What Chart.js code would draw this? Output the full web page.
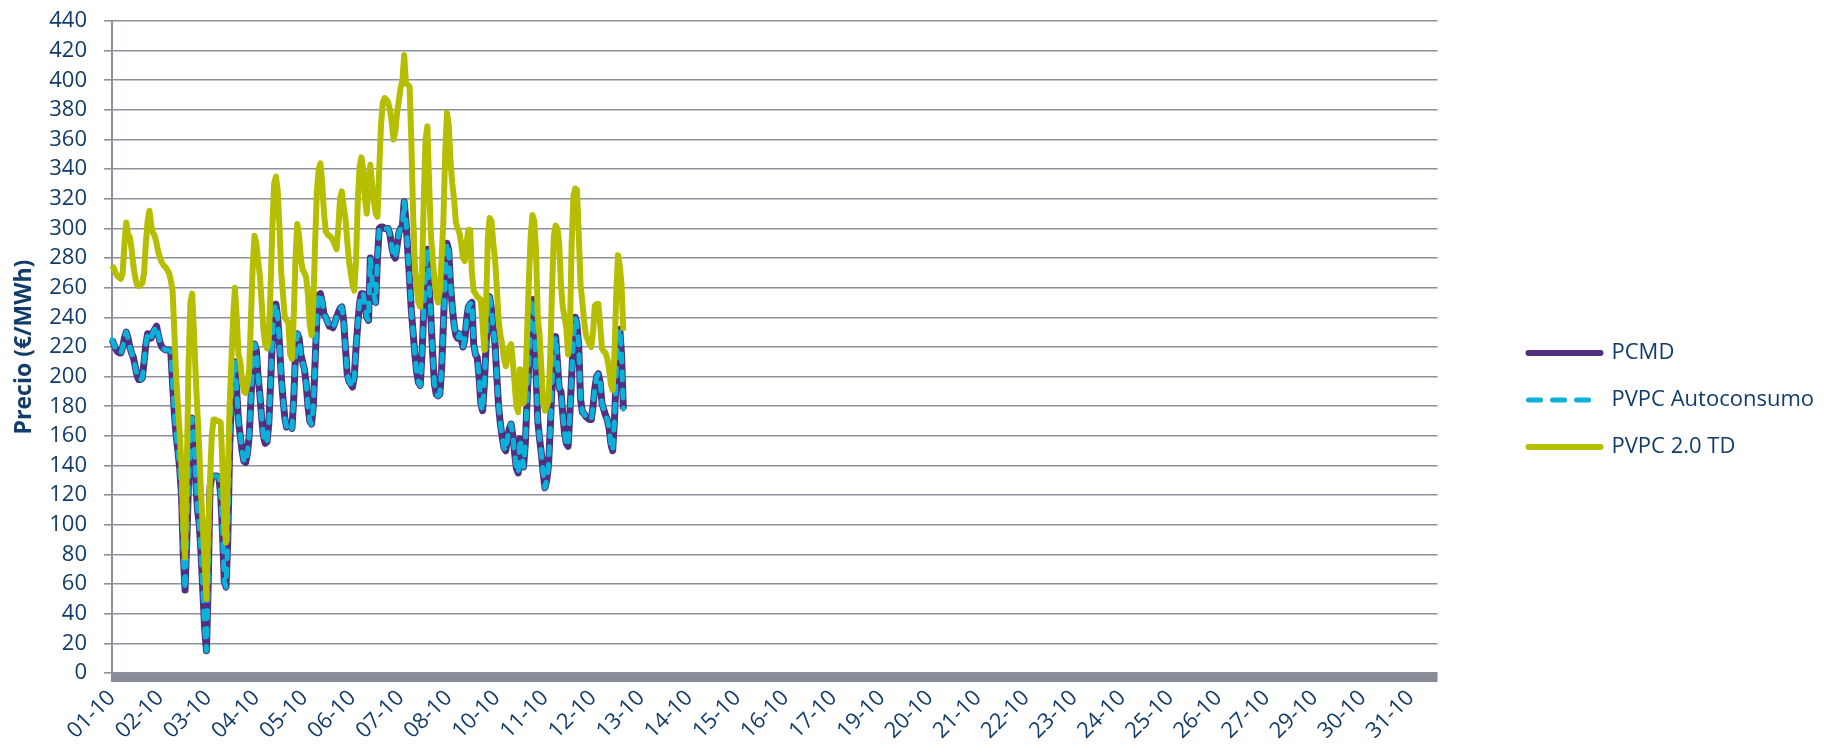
<!DOCTYPE html>
<html lang="es">
<head>
<meta charset="utf-8">
<title>Precio PCMD / PVPC - octubre</title>
<script src="https://cdn.jsdelivr.net/npm/chart.js@4.4.1/dist/chart.umd.min.js"></script>
<style>
  html, body { margin: 0; padding: 0; background: #fff; overflow: hidden; }
  #wrap { width: 1824px; height: 753px; }
</style>
</head>
<body>
<div id="wrap"><canvas id="precioChart" width="1824" height="753"></canvas></div>
<script>
// Days of the month shown on the category axis (one category per hour)
const days = ['01-10', '02-10', '03-10', '04-10', '05-10', '06-10', '07-10', '08-10',
  '09-10', '10-10', '11-10', '12-10', '13-10', '14-10', '15-10', '16-10', '17-10',
  '18-10', '19-10', '20-10', '21-10', '22-10', '23-10', '24-10', '25-10', '26-10',
  '27-10', '28-10', '29-10', '30-10', '31-10'];
// 27-10 is the DST change day, so it has 25 hours
const hoursPerDay = [24, 24, 24, 24, 24, 24, 24, 24, 24, 24, 24, 24, 24, 24, 24, 24,
  24, 24, 24, 24, 24, 24, 24, 24, 24, 24, 25, 24, 24, 24, 24];
const labelStep = 27; // one visible label every 27 hours

// Hourly prices (€/MWh), 01-10 to 12-10, one row per day
const pcmd = [
  225, 222, 219, 217, 216, 216, 220, 226, 230, 226, 220, 216, 213, 207, 201, 198, 198, 199, 210, 222, 229, 228, 226, 230,
  232, 234, 228, 223, 220, 219, 218, 218, 218, 217, 195, 175, 160, 150, 138, 120, 80, 56, 90, 130, 160, 172, 160, 130,
  110, 100, 80, 55, 30, 15, 60, 125, 132, 133, 133, 133, 132, 120, 95, 62, 58, 90, 150, 185, 205, 210, 190, 170,
  160, 150, 143, 142, 148, 160, 185, 210, 222, 218, 200, 188, 172, 160, 155, 156, 168, 195, 225, 245, 249, 240, 222, 200,
  185, 172, 166, 168, 168, 165, 185, 215, 229, 226, 215, 210, 205, 195, 180, 170, 168, 180, 210, 240, 255, 256, 250, 242,
  240, 237, 234, 234, 233, 236, 240, 243, 246, 247, 238, 220, 202, 197, 195, 193, 200, 220, 236, 250, 256, 256, 248, 240,
  238, 280, 265, 255, 250, 280, 300, 301, 301, 300, 300, 300, 296, 288, 282, 280, 288, 297, 300, 302, 318, 305, 285, 266,
  245, 230, 215, 203, 196, 194, 215, 245, 272, 286, 262, 240, 215, 195, 188, 187, 188, 205, 235, 268, 290, 285, 262, 247,
  235, 228, 226, 229, 225, 220, 225, 238, 247, 249, 250, 222, 215, 213, 200, 182, 177, 195, 222, 245, 254, 245, 232, 222,
  200, 180, 168, 159, 152, 150, 158, 165, 168, 160, 148, 138, 135, 158, 150, 139, 155, 185, 210, 238, 252, 240, 202, 170,
  158, 148, 135, 125, 130, 140, 165, 195, 218, 227, 210, 192, 190, 175, 162, 155, 153, 175, 200, 225, 240, 235, 220, 185,
  176, 175, 173, 172, 171, 171, 180, 192, 200, 202, 196, 182, 178, 174, 171, 165, 155, 150, 170, 200, 228, 232, 215, 178
];

// Lies right on top of PCMD in the picture
const pvpcAutoconsumo = [
  225, 222, 219, 217, 216, 216, 220, 226, 230, 226, 220, 216, 213, 207, 201, 198, 198, 199, 210, 222, 229, 228, 226, 230,
  232, 234, 228, 223, 220, 219, 218, 218, 218, 217, 195, 175, 160, 150, 138, 120, 80, 56, 90, 130, 160, 172, 160, 130,
  110, 100, 80, 55, 30, 15, 60, 125, 132, 133, 133, 133, 132, 120, 95, 62, 58, 90, 150, 185, 205, 210, 190, 170,
  160, 150, 143, 142, 148, 160, 185, 210, 222, 218, 200, 188, 172, 160, 155, 156, 168, 195, 225, 245, 249, 240, 222, 200,
  185, 172, 166, 168, 168, 165, 185, 215, 229, 226, 215, 210, 205, 195, 180, 170, 168, 180, 210, 240, 255, 256, 250, 242,
  240, 237, 234, 234, 233, 236, 240, 243, 246, 247, 238, 220, 202, 197, 195, 193, 200, 220, 236, 250, 256, 256, 248, 240,
  238, 280, 265, 255, 250, 280, 300, 301, 301, 300, 300, 300, 296, 288, 282, 280, 288, 297, 300, 302, 318, 305, 285, 266,
  245, 230, 215, 203, 196, 194, 215, 245, 272, 286, 262, 240, 215, 195, 188, 187, 188, 205, 235, 268, 290, 285, 262, 247,
  235, 228, 226, 229, 225, 220, 225, 238, 247, 249, 250, 222, 215, 213, 200, 182, 177, 195, 222, 245, 254, 245, 232, 222,
  200, 180, 168, 159, 152, 150, 158, 165, 168, 160, 148, 138, 135, 158, 150, 139, 155, 185, 210, 238, 252, 240, 202, 170,
  158, 148, 135, 125, 130, 140, 165, 195, 218, 227, 210, 192, 190, 175, 162, 155, 153, 175, 200, 225, 240, 235, 220, 185,
  176, 175, 173, 172, 171, 171, 180, 192, 200, 202, 196, 182, 178, 174, 171, 165, 155, 150, 170, 200, 228, 232, 215, 178
];

const pvpc20td = [
  275, 273, 270, 268, 267, 266, 270, 290, 304, 296, 294, 286, 275, 267, 262, 261, 262, 263, 270, 290, 305, 312, 302, 297,
  295, 290, 284, 280, 277, 275, 274, 272, 270, 265, 258, 230, 200, 180, 162, 140, 100, 78, 140, 210, 250, 256, 230, 200,
  175, 150, 120, 99, 75, 50, 95, 130, 160, 171, 171, 170, 170, 169, 140, 100, 88, 130, 180, 210, 240, 260, 240, 215,
  210, 198, 190, 189, 195, 205, 240, 275, 295, 290, 278, 268, 250, 232, 222, 219, 225, 260, 300, 330, 335, 326, 300, 270,
  255, 240, 238, 236, 215, 212, 240, 280, 303, 295, 280, 272, 270, 267, 255, 235, 228, 250, 290, 325, 340, 344, 330, 310,
  298, 296, 295, 294, 292, 289, 286, 300, 320, 325, 315, 307, 292, 278, 270, 262, 258, 280, 320, 342, 348, 340, 320, 310,
  330, 343, 330, 318, 310, 308, 340, 370, 385, 388, 387, 385, 380, 372, 360, 365, 378, 386, 395, 400, 417, 398, 397, 396,
  360, 310, 275, 260, 250, 247, 270, 320, 360, 369, 330, 295, 280, 265, 255, 250, 258, 280, 305, 350, 378, 370, 345, 330,
  320, 304, 300, 297, 290, 280, 278, 290, 299, 299, 270, 258, 256, 254, 253, 252, 235, 218, 250, 295, 307, 305, 290, 279,
  260, 238, 228, 222, 212, 207, 212, 220, 222, 210, 195, 180, 176, 205, 200, 182, 195, 230, 265, 295, 309, 305, 285, 240,
  228, 205, 182, 177, 180, 184, 215, 260, 295, 302, 300, 290, 262, 247, 240, 233, 215, 230, 290, 322, 327, 326, 295, 262,
  250, 238, 228, 225, 222, 220, 230, 248, 249, 249, 235, 219, 217, 216, 212, 205, 195, 191, 215, 255, 282, 275, 262, 231
];

// one category per hour of the month
const hourLabels = [];
days.forEach((d, i) => {
    for (let h = 0; h < hoursPerDay[i]; h++) hourLabels.push(d);
});

const textColor = '#123c69';
const gridColor = '#8d919b';
const fontFamily = "'Open Sans', 'Noto Sans', sans-serif";

// thick grey band under the plot, like the original category axis
const axisBand = {
    id: 'axisBand',
    afterDraw(chart) {
        const {ctx, chartArea} = chart;
        ctx.save();
        ctx.fillStyle = '#868b95';
        ctx.fillRect(chartArea.left - 1, chartArea.bottom, chartArea.right - chartArea.left + 1, 9);
        ctx.restore();
    }
};

const ctx = document.getElementById('precioChart').getContext('2d');
const precioChart = new Chart(ctx, {
    type: 'line',
    data: {
        labels: hourLabels,
        datasets: [{
            label: 'PCMD',
            data: pcmd,
            borderColor: '#52307f',
            backgroundColor: '#52307f',
            borderWidth: 7,
            order: 2
        }, {
            label: 'PVPC Autoconsumo',
            data: pvpcAutoconsumo,
            borderColor: '#0ab2d9',
            backgroundColor: '#0ab2d9',
            borderWidth: 5,
            borderDash: [8, 10],
            borderCapStyle: 'round',
            order: 1
        }, {
            label: 'PVPC 2.0 TD',
            data: pvpc20td,
            borderColor: '#b5be00',
            backgroundColor: '#b5be00',
            borderWidth: 6,
            order: 0
        }]
    },
    options: {
        responsive: false,
        animation: false,
        devicePixelRatio: 1,
        layout: { padding: { top: 21, left: 0, right: 0, bottom: 0 } },
        elements: {
            point: { radius: 0, hoverRadius: 0 },
            line: { tension: 0, borderJoinStyle: 'round', fill: false }
        },
        scales: {
            x: {
                type: 'category',
                grid: { display: false, drawTicks: false },
                border: { display: false },
                ticks: {
                    autoSkip: false,
                    minRotation: 45,
                    maxRotation: 45,
                    padding: 12,
                    color: textColor,
                    font: { family: fontFamily, size: 22 },
                    callback: function (value, index) {
                        return index % labelStep === 0 ? this.getLabelForValue(value) : null;
                    }
                },
                afterFit: scale => { scale.height = 80; }
            },
            y: {
                min: 0,
                max: 440,
                ticks: {
                    stepSize: 20,
                    maxTicksLimit: 30,
                    padding: 17,
                    color: textColor,
                    font: { family: fontFamily, size: 22 }
                },
                grid: { color: gridColor, lineWidth: 1.6, tickLength: 8 },
                border: { color: gridColor, width: 2 },
                title: {
                    display: true,
                    text: 'Precio (€/MWh)',
                    color: textColor,
                    font: { family: fontFamily, size: 23, weight: 'bold' },
                    padding: { top: 11, bottom: 0 }
                },
                afterFit: scale => {
                    scale.width = 112;
                    scale.paddingTop = 10;
                    scale.paddingBottom = 10;
                }
            },
            // empty spacer between the plot and the legend
            yPad: {
                type: 'linear',
                position: 'right',
                grid: { display: false, drawTicks: false },
                border: { display: false },
                ticks: { display: false },
                afterFit: scale => { scale.width = 66; }
            }
        },
        plugins: {
            tooltip: { enabled: false },
            legend: {
                position: 'right',
                align: 'center',
                maxWidth: 400,
                title: { display: true, text: '', font: { size: 10 }, padding: { top: 0, bottom: 14 } },
                labels: {
                    usePointStyle: true,
                    pointStyle: 'line',
                    pointStyleWidth: 72,
                    padding: 25,
                    color: textColor,
                    font: { family: fontFamily, size: 22 },
                    sort: (a, b) => a.datasetIndex - b.datasetIndex,
                    // keep the dash pattern and a round cap on the legend samples
                    generateLabels: chart => Chart.defaults.plugins.legend.labels.generateLabels(chart).map(item => {
                        const ds = chart.data.datasets[item.datasetIndex];
                        return Object.assign(item, {
                            lineDash: ds.borderDash ? [12, 12] : [],
                            lineCap: 'round',
                            lineWidth: ds.borderDash ? 5 : 6
                        });
                    })
                }
            }
        }
    },
    plugins: [axisBand]
});
</script>
</body>
</html>
